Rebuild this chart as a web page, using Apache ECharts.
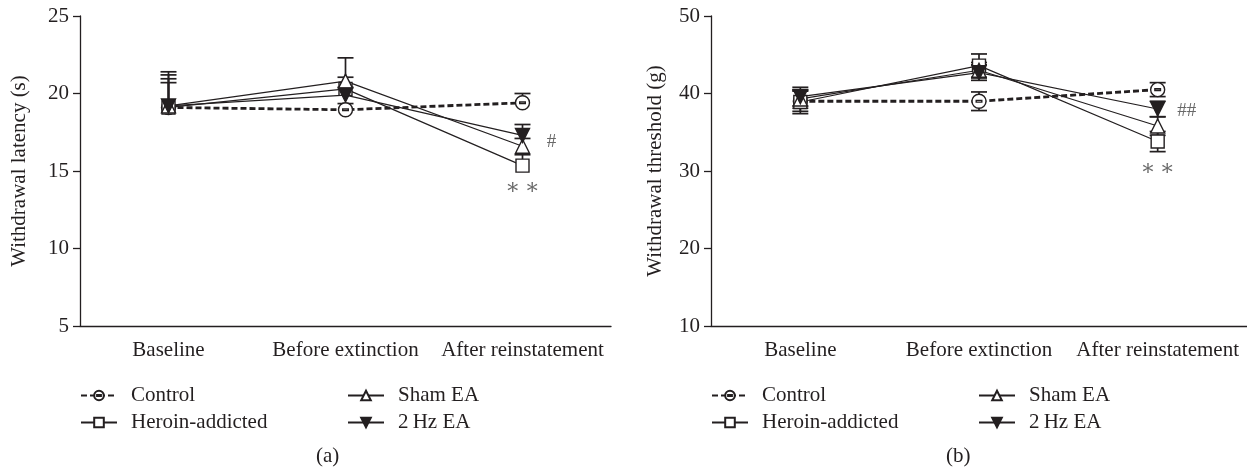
<!DOCTYPE html>
<html>
<head>
<meta charset="utf-8">
<script src="https://cdn.jsdelivr.net/npm/echarts@6/dist/echarts.min.js"></script>
<style>html,body{margin:0;padding:0;background:#fff;}#c{width:1247px;height:472px;}</style>
</head>
<body>
<div id="c"></div>
<script>
const categories = ['Baseline', 'Before extinction', 'After reinstatement'];
const seriesNames = ['Control', 'Heroin-addicted', 'Sham EA', '2\u2009Hz EA'];

// Panel (a): withdrawal latency (s)
const latControl = [19.1, 18.95, 19.4];
const latHeroin  = [19.1, 20.3, 15.35];
const latSham    = [19.2, 20.8, 16.6];
const lat2Hz     = [19.2, 19.9, 17.3];
const latControlErr = [1.6, 0.4, 0.6];
const latHeroinErr  = [2.3, 0.75, 0.7];
const latShamErr    = [2.0, 1.5, 0.5];
const lat2HzErr     = [1.75, 0.5, 0.7];
const latTicks = [5, 10, 15, 20, 25];

// Panel (b): withdrawal threshold (g)
const thrControl = [39.0, 39.0, 40.5];
const thrHeroin  = [38.9, 43.6, 33.8];
const thrSham    = [39.3, 43.0, 35.8];
const thr2Hz     = [39.6, 42.7, 38.0];
const thrControlErr = [1.3, 1.2, 0.9];
const thrHeroinErr  = [1.5, 1.5, 1.3];
const thrShamErr    = [1.2, 1.0, 1.2];
const thr2HzErr     = [1.2, 1.0, 1.0];
const thrTicks = [10, 20, 30, 40, 50];

// significance marks: [category index, value anchor, text]
const latMarks = [[2, 14.0, '\u2217\u2009\u2217'], [2, 17.0, '#']];
const thrMarks = [[2, 30.5, '\u2217\u2009\u2217'], [2, 38.0, '##']];

const INK = '#231f20';
const FONT = '"Liberation Serif", "DejaVu Serif", serif';
const FS = 21;

const symCircle = 'path://M0,-10A10,10 0 1,1 0,10A10,10 0 1,1 0,-10Z M-4,-1.2L4,-1.2L4,1.2L-4,1.2Z';
const styles = [
  {symbol: symCircle, size: 14, fill: '#fff', dash: [6, 3], lw: 2.8, rot: 0},
  {symbol: 'rect', size: 13, fill: '#fff', dash: 'solid', lw: 1.2, rot: 0},
  {symbol: 'triangle', size: 14, fill: '#fff', dash: 'solid', lw: 1.2, rot: 0},
  {symbol: 'triangle', size: 14, fill: INK, dash: 'solid', lw: 1.2, rot: 180}
];

function lineSeries(name, data, st, idx) {
  return {
    name: name, type: 'line', data: data,
    xAxisIndex: idx, yAxisIndex: idx,
    symbol: st.symbol, symbolSize: st.size, symbolRotate: st.rot,
    showAllSymbol: true,
    lineStyle: {color: INK, width: st.lw, type: st.dash},
    itemStyle: {color: st.fill, borderColor: INK, borderWidth: 1.4},
    emphasis: {disabled: true},
    z: 3, animation: false
  };
}

function errSeries(values, errs, both, idx) {
  return {
    type: 'custom', xAxisIndex: idx, yAxisIndex: idx,
    data: values.map((v, i) => [i, v, errs[i]]),
    renderItem: function (params, api) {
      const x = api.value(0), v = api.value(1), e = api.value(2);
      const p = api.coord([x, v]);
      const hi = api.coord([x, v + e]);
      const lo = both ? api.coord([x, v - e]) : p;
      const hw = 8;
      const st = {stroke: INK, lineWidth: 1.7};
      const ch = [
        {type: 'line', shape: {x1: p[0], y1: lo[1], x2: p[0], y2: hi[1]}, style: st},
        {type: 'line', shape: {x1: p[0] - hw, y1: hi[1], x2: p[0] + hw, y2: hi[1]}, style: st}
      ];
      if (both) ch.push({type: 'line', shape: {x1: p[0] - hw, y1: lo[1], x2: p[0] + hw, y2: lo[1]}, style: st});
      return {type: 'group', children: ch};
    },
    z: 2, animation: false, silent: true
  };
}

function markSeries(marks, idx) {
  return {
    type: 'scatter', xAxisIndex: idx, yAxisIndex: idx,
    symbolSize: 0, silent: true, z: 4,
    data: marks.map(m => {
      const hash = m[2].charAt(0) === '#';
      return {value: [m[0], m[1]], label: {
        show: true, formatter: m[2], position: 'inside',
        offset: [hash ? 29 : 0, hash ? 2 : 2],
        color: '#444', fontFamily: FONT, fontSize: hash ? 19 : 22
      }};
    })
  };
}

const axisTxt = {color: INK, fontFamily: FONT, fontSize: FS};

function xAx(idx) {
  return {
    type: 'category', gridIndex: idx, data: categories, boundaryGap: true,
    axisLine: {lineStyle: {color: INK, width: 1.3}},
    axisTick: {alignWithLabel: true, length: 7, lineStyle: {color: INK, width: 1.3}},
    axisLabel: Object.assign({margin: 14, interval: 0}, axisTxt),
    splitLine: {show: false}
  };
}
function yAx(idx, ticks, name, gap) {
  return {
    type: 'value', gridIndex: idx, min: ticks[0], max: ticks[ticks.length - 1],
    interval: ticks[1] - ticks[0],
    name: name, nameLocation: 'middle', nameGap: gap,
    nameTextStyle: {color: INK, fontFamily: FONT, fontSize: FS},
    axisLine: {show: true, lineStyle: {color: INK, width: 1.3}},
    axisTick: {show: true, length: 7, lineStyle: {color: INK, width: 1.3}},
    axisLabel: Object.assign({margin: 11}, axisTxt),
    splitLine: {show: false}
  };
}

const latVals = [latControl, latHeroin, latSham, lat2Hz];
const latErrs = [latControlErr, latHeroinErr, latShamErr, lat2HzErr];
const thrVals = [thrControl, thrHeroin, thrSham, thr2Hz];
const thrErrs = [thrControlErr, thrHeroinErr, thrShamErr, thr2HzErr];

const series = [];
latVals.forEach((v, i) => series.push(errSeries(v, latErrs[i], false, 0)));
thrVals.forEach((v, i) => series.push(errSeries(v, thrErrs[i], true, 1)));
latVals.forEach((v, i) => series.push(lineSeries(seriesNames[i], v, styles[i], 0)));
thrVals.forEach((v, i) => series.push(lineSeries(seriesNames[i], v, styles[i], 1)));
series.push(markSeries(latMarks, 0));
series.push(markSeries(thrMarks, 1));

function leg(names, left) {
  return {
    data: names, orient: 'vertical', left: left, top: 380,
    itemWidth: 36, itemHeight: 12, itemGap: 6, selectedMode: false,
    textStyle: {color: INK, fontFamily: FONT, fontSize: FS, padding: [0, 0, 0, 9]}
  };
}

const chart = echarts.init(document.getElementById('c'));
chart.setOption({
  animation: false,
  backgroundColor: '#fff',
  grid: [
    {left: 80, top: 16, width: 531, height: 310},
    {left: 711, top: 16, width: 536, height: 310}
  ],
  xAxis: [xAx(0), xAx(1)],
  yAxis: [yAx(0, latTicks, 'Withdrawal latency (s)', 50), yAx(1, thrTicks, 'Withdrawal threshold (g)', 45)],
  legend: [
    leg([seriesNames[0], seriesNames[1]], 75),
    leg([seriesNames[2], seriesNames[3]], 342),
    leg([seriesNames[0], seriesNames[1]], 706),
    leg([seriesNames[2], seriesNames[3]], 973)
  ],
  graphic: [
    {type: 'text', left: 316, top: 446, style: {text: '(a)', fill: INK, font: FS + 'px ' + FONT}},
    {type: 'text', left: 946, top: 446, style: {text: '(b)', fill: INK, font: FS + 'px ' + FONT}}
  ],
  series: series
});
</script>
</body>
</html>
